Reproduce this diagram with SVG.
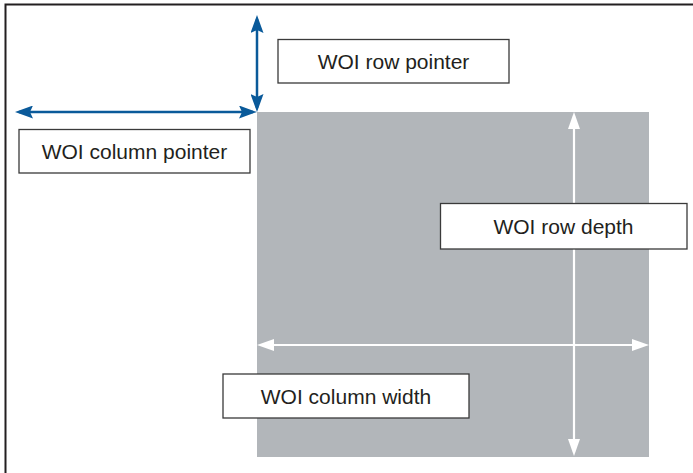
<svg xmlns="http://www.w3.org/2000/svg" width="693" height="473" viewBox="0 0 693 473">
  <style>
    .lbl { fill:#ffffff; stroke:#3a3a3a; stroke-width:1.3; }
    .txt { font-family:"Liberation Sans", Arial, Helvetica, sans-serif; font-size:21px; fill:#231f20; text-anchor:middle; }
    .blue { stroke:#0a5a9a; stroke-width:2.5; fill:none; }
    .white { stroke:#ffffff; stroke-width:2.2; fill:none; }
  </style>
  <defs>
    <marker id="ahBlue" markerUnits="userSpaceOnUse" viewBox="0 0 18 13" refX="14" refY="6.5" markerWidth="18" markerHeight="13" orient="auto-start-reverse">
      <path d="M0,0 L18,6.5 L0,13 L3,6.5 z" fill="#0a5a9a"/>
    </marker>
    <marker id="ahWhite" markerUnits="userSpaceOnUse" viewBox="0 0 17 12" refX="13" refY="6" markerWidth="17" markerHeight="12" orient="auto-start-reverse">
      <path d="M0,0 L17,6 L0,12 z" fill="#ffffff"/>
    </marker>
  </defs>
  <rect width="693" height="473" fill="#ffffff"/>
  <path d="M5.5,474 V4.5 H694" fill="none" stroke="#231f20" stroke-width="2"/>

  <g id="woi-region">
    <rect x="257" y="112" width="392" height="345" fill="#b2b6ba"/>
  </g>

  <g id="connectors">
    <line class="white" x1="574" y1="116" x2="574" y2="452" marker-start="url(#ahWhite)" marker-end="url(#ahWhite)"/>
    <line class="white" x1="261" y1="345" x2="645" y2="345" marker-start="url(#ahWhite)" marker-end="url(#ahWhite)"/>
    <line class="blue" x1="257" y1="19" x2="257" y2="108" marker-start="url(#ahBlue)" marker-end="url(#ahBlue)"/>
    <line class="blue" x1="19" y1="112" x2="253" y2="112" marker-start="url(#ahBlue)" marker-end="url(#ahBlue)"/>
  </g>

  <g id="row-pointer">
    <rect class="lbl" x="278" y="39.5" width="231" height="43.5"/>
    <text class="txt" x="393.5" y="68.5">WOI row pointer</text>
  </g>
  <g id="column-pointer">
    <rect class="lbl" x="19" y="129.5" width="231" height="43.5"/>
    <text class="txt" x="134.5" y="158.5">WOI column pointer</text>
  </g>
  <g id="row-depth">
    <rect class="lbl" x="440.5" y="203.5" width="246.5" height="45.5"/>
    <text class="txt" x="563.5" y="233.5">WOI row depth</text>
  </g>
  <g id="column-width">
    <rect class="lbl" x="223" y="374" width="246" height="44"/>
    <text class="txt" x="346" y="403.5">WOI column width</text>
  </g>
</svg>
